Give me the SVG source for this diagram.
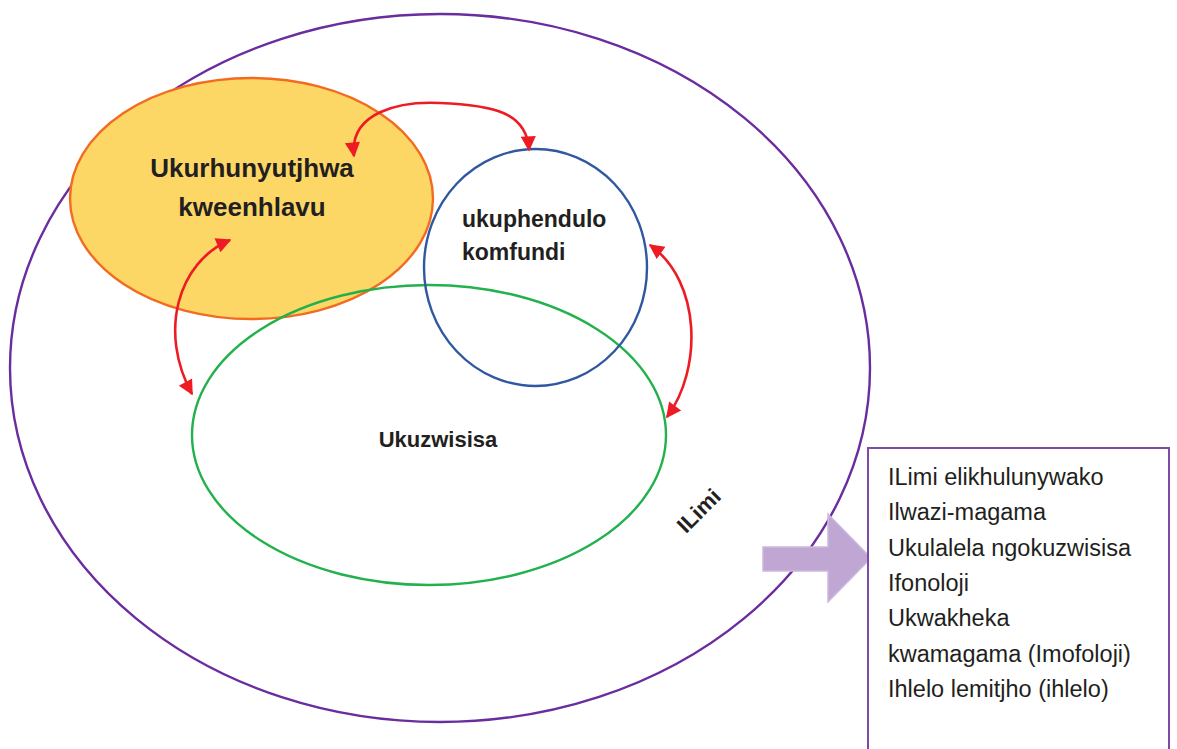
<svg xmlns="http://www.w3.org/2000/svg" width="1177" height="749" viewBox="0 0 1177 749">
<defs>
<style>
.lbl{font-family:"Liberation Sans",Arial,sans-serif;font-weight:bold;fill:#231f20}
.lst{font-family:"Liberation Sans",Arial,sans-serif;font-size:23.5px;fill:#231f20}
.ra{fill:none;stroke:#ed1c24;stroke-width:2.6}
</style>
<marker id="ah" viewBox="0 0 10 10" refX="9" refY="5" markerWidth="6.8" markerHeight="5.8" markerUnits="strokeWidth" orient="auto-start-reverse">
<path d="M0,0 L10,5 L0,10 z" fill="#ed1c24"/>
</marker>
</defs>
<rect width="1177" height="749" fill="#ffffff"/>
<g id="ilimi">
<ellipse cx="440" cy="368" rx="430" ry="354" fill="none" stroke="#6a2c9e" stroke-width="2.4"/>
<text class="lbl" font-size="22" transform="translate(700,512) rotate(-45)" text-anchor="middle" dominant-baseline="middle">ILimi</text>
</g>
<g id="ukurhunyutjhwa">
<ellipse cx="251.5" cy="198.5" rx="181.5" ry="120.5" fill="#fdd766" stroke="#f26b21" stroke-width="2.4"/>
<text class="lbl" font-size="26" x="252" y="177" text-anchor="middle">Ukurhunyutjhwa</text>
<text class="lbl" font-size="26" x="252" y="216" text-anchor="middle">kweenhlavu</text>
</g>
<g id="ukuzwisisa">
<ellipse cx="429" cy="435" rx="237" ry="150" fill="none" stroke="#22b14c" stroke-width="2.4"/>
<text class="lbl" font-size="22" x="438" y="447" text-anchor="middle">Ukuzwisisa</text>
</g>
<g id="ukuphendulo">
<ellipse cx="535.5" cy="267.5" rx="111.5" ry="118.5" fill="none" stroke="#2f58a0" stroke-width="2.4"/>
<text class="lbl" font-size="23" x="462" y="227">ukuphendulo</text>
<text class="lbl" font-size="23" x="462" y="260">komfundi</text>
</g>
<g id="connectors">
<path class="ra" d="M354,156 C349,112 400,101 440,103 C492,105 527,112 529,150" marker-start="url(#ah)" marker-end="url(#ah)"/>
<path class="ra" d="M230,240 C178,262 158,332 192,394" marker-start="url(#ah)" marker-end="url(#ah)"/>
<path class="ra" d="M650,245 C702,282 702,370 667,417" marker-start="url(#ah)" marker-end="url(#ah)"/>
</g>
<g id="pointer">
<path d="M763,547 L828,547 L828,514 L871,558 L828,602 L828,571 L763,571 z" fill="#bfa6d3" stroke="#cdb8dd" stroke-width="1.5"/>
</g>
<g id="listbox">
<rect x="868" y="448" width="301" height="320" fill="#ffffff" stroke="#7d4aa6" stroke-width="2"/>
<text class="lst" x="888" y="485">ILimi elikhulunywako</text>
<text class="lst" x="888" y="520">Ilwazi-magama</text>
<text class="lst" x="888" y="556">Ukulalela ngokuzwisisa</text>
<text class="lst" x="888" y="591">Ifonoloji</text>
<text class="lst" x="888" y="626">Ukwakheka</text>
<text class="lst" x="888" y="662">kwamagama (Imofoloji)</text>
<text class="lst" x="888" y="697">Ihlelo lemitjho (ihlelo)</text>
</g>
</svg>
